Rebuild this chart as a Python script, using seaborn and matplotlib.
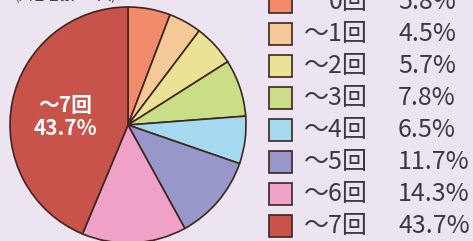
import matplotlib
matplotlib.use("Agg")
import matplotlib.pyplot as plt
from matplotlib.patches import Rectangle
import seaborn as sns

# data
labels = ["0回", "～1回", "～2回", "～3回", "～4回", "～5回", "～6回", "～7回"]
shares = [5.8, 4.5, 5.7, 7.8, 6.5, 11.7, 14.3, 43.7]
colors = ["#f28b6b", "#f5c897", "#ebe295", "#c9de86", "#a4d9ef",
          "#9797c9", "#f0a1c8", "#c8534a"]
note = "(回答者数500人)"

bg = "#ece5f1"
edge = "#3d2620"

sns.set_theme(style="white")
plt.rcParams["font.family"] = ["Noto Sans CJK JP", "DejaVu Sans"]

fig = plt.figure(figsize=(4.73, 2.41), dpi=100, facecolor=bg)
W, H = 473, 241

# pie, centre (128,125) px from top-left, radius 118 px
cx, cy, r = 128, 125, 118
ax = fig.add_axes([(cx - r) / W, (H - cy - r) / H, 2 * r / W, 2 * r / H])
wedges, _ = ax.pie(shares, colors=colors, startangle=90, counterclock=False,
                   wedgeprops=dict(edgecolor=edge, linewidth=1.2))
for w in wedges:
    w.set_clip_on(False)
ax.set_xlim(-1, 1)
ax.set_ylim(-1, 1)
ax.set_aspect("auto")
ax.axis("off")

# overlay in pixel coordinates for legend and texts
ov = fig.add_axes([0, 0, 1, 1])
ov.set_xlim(0, W)
ov.set_ylim(H, 0)
ov.axis("off")
ov.patch.set_alpha(0)

ov.text(15, 3, note, fontsize=10, color="#333333", ha="left", va="bottom",
        clip_on=False)

ov.text(65, 117, f"{labels[-1]}\n{shares[-1]}%", color="white", fontsize=15,
        fontweight="bold", ha="center", va="center", linespacing=1.1)

row0, step = 2, 32.0
for i, (lab, val, col) in enumerate(zip(labels, shares, colors)):
    yc = row0 + i * step
    ov.add_patch(Rectangle((269, yc - 11), 23, 22, facecolor=col,
                           edgecolor=edge, linewidth=1.2))
    ov.text(368, yc, lab, fontsize=18, color="#3a3a3a", ha="right", va="center")
    ov.text(398, yc, f"{val}%", fontsize=18, color="#3a3a3a", ha="left", va="center")

fig.savefig("out.png", dpi=100, facecolor=bg)
